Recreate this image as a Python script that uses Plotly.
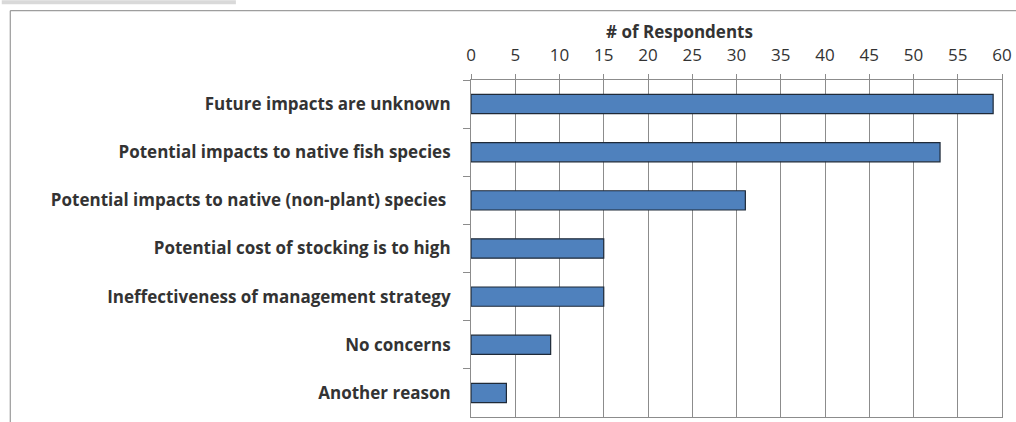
import plotly.graph_objects as go

categories = [
    "Future impacts are unknown",
    "Potential impacts to native fish species",
    "Potential impacts to native (non-plant) species ",
    "Potential cost of stocking is to high",
    "Ineffectiveness of management strategy",
    "No concerns",
    "Another reason",
]
respondents = [59, 53, 31, 15, 15, 9, 4]
x_ticks = list(range(0, 61, 5))
axis_title = "# of Respondents"

W, H = 1016, 422
L, R, T, B = 471, 12, 80, 4
PW, PH = W - L - R, H - T - B


def px_x(x):
    return (x - L) / PW


def px_y(y):
    return 1 - (y - T) / PH


fig = go.Figure()
fig.add_trace(go.Bar(
    y=categories, x=respondents, orientation="h", width=0.4,
    marker=dict(color="#4F81BD", line=dict(color="#1f2a38", width=1.2)),
    hoverinfo="x+y",
))

font_family = "Open Sans, Liberation Sans, sans-serif"
fig.update_layout(
    width=W, height=H,
    margin=dict(l=L, r=R, t=T, b=B, pad=0),
    paper_bgcolor="white", plot_bgcolor="white",
    showlegend=False,
    font=dict(family=font_family, color="#333333"),
    xaxis=dict(
        side="top", range=[0, 60], tickvals=x_ticks, ticktext=[str(v) for v in x_ticks],
        showgrid=True, gridcolor="#8c8c8c", gridwidth=1,
        ticks="outside", ticklen=5, tickcolor="#8c8c8c",
        tickfont=dict(size=17, color="#333333"),
        ticklabelstandoff=6,
        showline=True, linecolor="#8c8c8c", linewidth=1, mirror=True,
        zeroline=False, fixedrange=True,
    ),
    yaxis=dict(
        autorange="reversed", type="category",
        ticks="outside", ticklen=7, tickcolor="#8c8c8c", tickson="boundaries",
        tickfont=dict(size=17, color="#333333", family=font_family, weight="bold"),
        showline=True, linecolor="#8c8c8c", linewidth=1, mirror=True,
        showgrid=False, ticklabelstandoff=16, fixedrange=True,
    ),
    shapes=[
        dict(type="rect", xref="paper", yref="paper",
             x0=px_x(0), x1=px_x(235), y0=px_y(0), y1=px_y(4),
             fillcolor="#d9d9d9", line=dict(width=0), layer="below"),
        dict(type="rect", xref="paper", yref="paper",
             x0=px_x(8.5), x1=px_x(1030), y0=px_y(10.5), y1=px_y(440),
             fillcolor="rgba(0,0,0,0)", line=dict(color="#868686", width=1), layer="below"),
    ],
    annotations=[
        dict(text="<b>" + axis_title + "</b>", xref="paper", yref="paper",
             x=px_x(680), y=px_y(31),
             xanchor="center", yanchor="middle", showarrow=False,
             font=dict(size=17, color="#333333", family=font_family)),
    ],
)

fig.write_html("out.html", config={"displayModeBar": False},
               post_script="document.body.style.margin='0';")
